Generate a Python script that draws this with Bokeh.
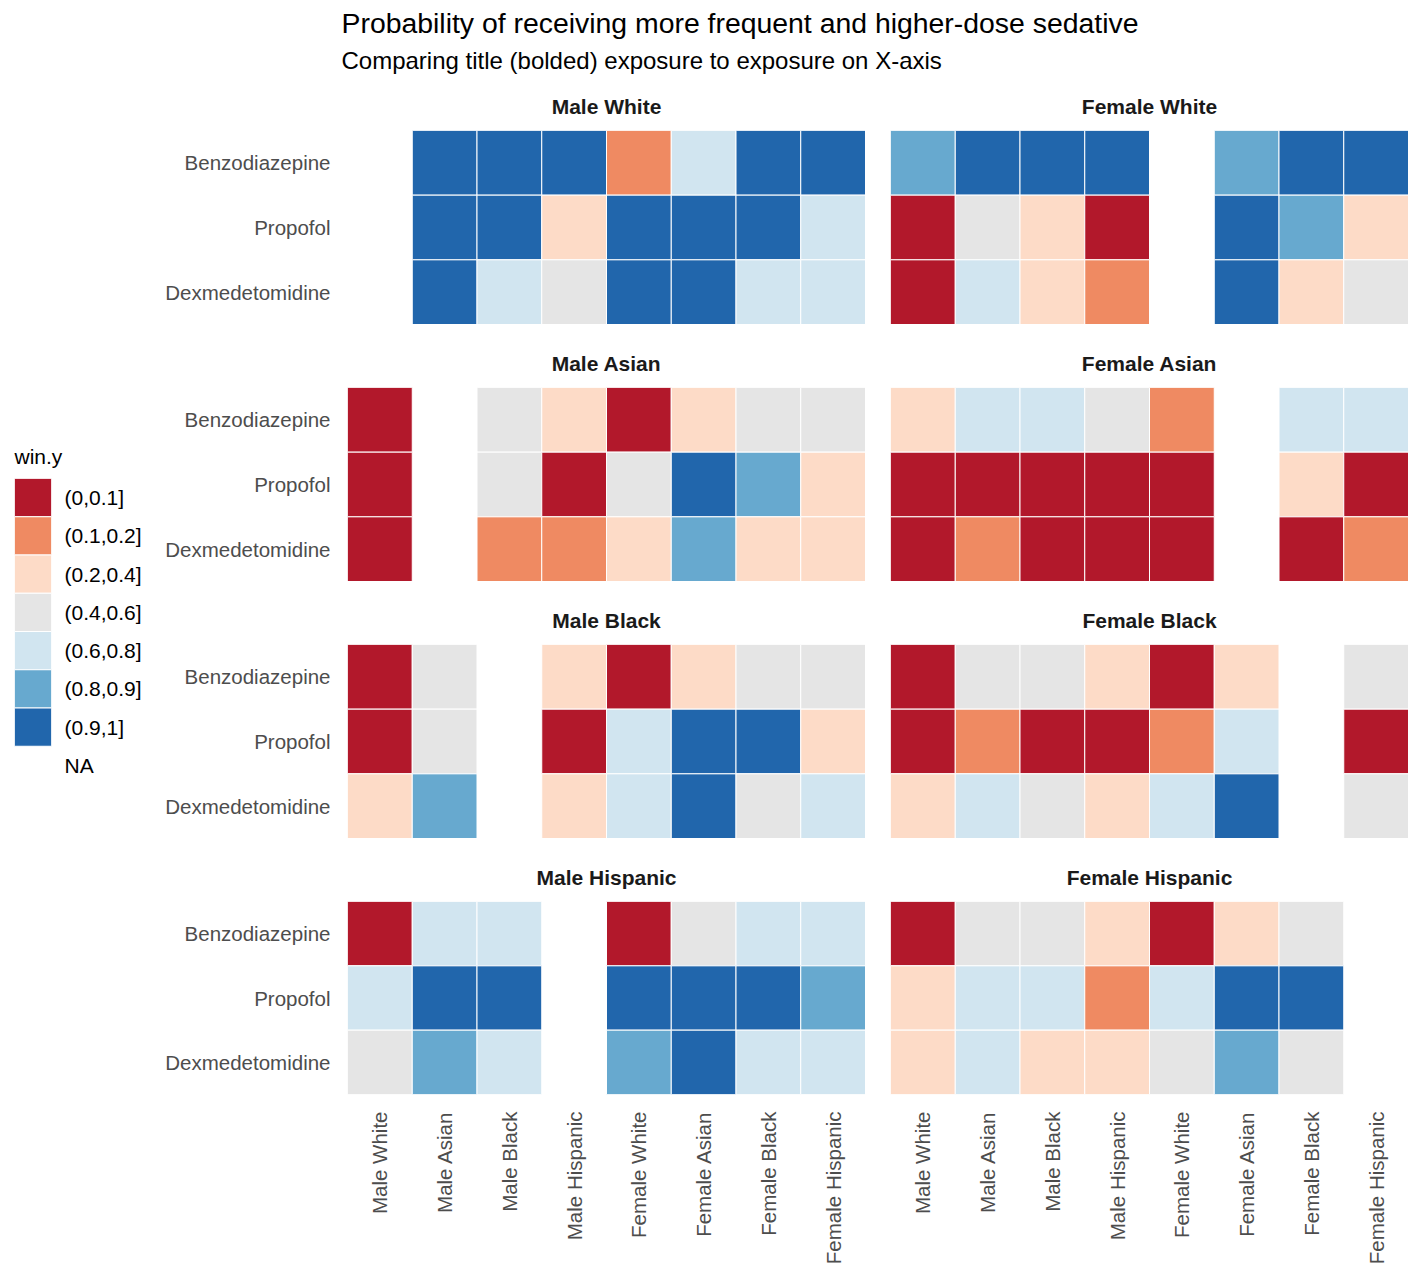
import math
from bokeh.plotting import figure
from bokeh.layouts import row, column
from bokeh.models import FactorRange, ColumnDataSource, Title, Range1d
from bokeh.transform import factor_cmap
from bokeh.embed import file_html
from bokeh.resources import INLINE

# ---------------- data ----------------
exposures = ["Male White", "Male Asian", "Male Black", "Male Hispanic",
             "Female White", "Female Asian", "Female Black", "Female Hispanic"]
sedatives = ["Benzodiazepine", "Propofol", "Dexmedetomidine"]
bins = ["(0,0.1]", "(0.1,0.2]", "(0.2,0.4]", "(0.4,0.6]", "(0.6,0.8]", "(0.8,0.9]", "(0.9,1]"]
bin_colors = ["#B2182B", "#EF8A62", "#FDDBC7", "#E5E5E5", "#D1E5F0", "#67A9CF", "#2166AC"]
na_label = "NA"
B1, B2, B3, B4, B5, B6, B7 = bins
NA = None

# rows: Benzodiazepine, Propofol, Dexmedetomidine ; columns: exposures
male_white = [
    [NA, B7, B7, B7, B2, B5, B7, B7],
    [NA, B7, B7, B3, B7, B7, B7, B5],
    [NA, B7, B5, B4, B7, B7, B5, B5],
]
female_white = [
    [B6, B7, B7, B7, NA, B6, B7, B7],
    [B1, B4, B3, B1, NA, B7, B6, B3],
    [B1, B5, B3, B2, NA, B7, B3, B4],
]
male_asian = [
    [B1, NA, B4, B3, B1, B3, B4, B4],
    [B1, NA, B4, B1, B4, B7, B6, B3],
    [B1, NA, B2, B2, B3, B6, B3, B3],
]
female_asian = [
    [B3, B5, B5, B4, B2, NA, B5, B5],
    [B1, B1, B1, B1, B1, NA, B3, B1],
    [B1, B2, B1, B1, B1, NA, B1, B2],
]
male_black = [
    [B1, B4, NA, B3, B1, B3, B4, B4],
    [B1, B4, NA, B1, B5, B7, B7, B3],
    [B3, B6, NA, B3, B5, B7, B4, B5],
]
female_black = [
    [B1, B4, B4, B3, B1, B3, NA, B4],
    [B1, B2, B1, B1, B2, B5, NA, B1],
    [B3, B5, B4, B3, B5, B7, NA, B4],
]
male_hispanic = [
    [B1, B5, B5, NA, B1, B4, B5, B5],
    [B5, B7, B7, NA, B7, B7, B7, B6],
    [B4, B6, B5, NA, B6, B7, B5, B5],
]
female_hispanic = [
    [B1, B4, B4, B3, B1, B3, B4, NA],
    [B3, B5, B5, B2, B5, B7, B7, NA],
    [B3, B5, B3, B3, B4, B6, B4, NA],
]

facet_grid = [
    [("Male White", male_white), ("Female White", female_white)],
    [("Male Asian", male_asian), ("Female Asian", female_asian)],
    [("Male Black", male_black), ("Female Black", female_black)],
    [("Male Hispanic", male_hispanic), ("Female Hispanic", female_hispanic)],
]

main_title = "Probability of receiving more frequent and higher-dose sedative"
sub_title = "Comparing title (bolded) exposure to exposure on X-axis"
legend_title = "win.y"

FONT = "Liberation Sans"
LEGEND_W = 150
FRAME_W = 518
FRAME_H = 194
LEFT_BORDER = 197
GAP = 25
HEADER_H = 80
TOP_BORDER_FIRST = 50
TOP_BORDER = 63
BOTTOM_BORDER = 172
AXIS_FONT = "20.5px"


def make_panel(title, values, is_left, is_bottom, top_border):
    xs, ys, vs = [], [], []
    for si, sed in enumerate(sedatives):
        for ei, exp in enumerate(exposures):
            v = values[si][ei]
            if v is not None:
                xs.append(exp)
                ys.append(sed)
                vs.append(v)
    src = ColumnDataSource(dict(x=xs, y=ys, v=vs))
    lb = LEFT_BORDER if is_left else GAP
    bb = BOTTOM_BORDER if is_bottom else 0
    p = figure(
        x_range=FactorRange(factors=exposures),
        y_range=FactorRange(factors=list(reversed(sedatives))),
        width=lb + FRAME_W, height=top_border + FRAME_H + bb,
        min_border_left=lb, min_border_right=0,
        min_border_top=top_border, min_border_bottom=bb,
        x_axis_location="below" if is_bottom else None,
        y_axis_location="left" if is_left else None,
        output_backend="svg", toolbar_location=None, title=title,
    )
    p.rect(x="x", y="y", width=1, height=1, source=src,
           fill_color=factor_cmap("v", bin_colors, bins),
           line_color="white", line_width=1)
    p.outline_line_color = None
    p.grid.visible = False
    p.background_fill_color = "white"
    p.title.align = "center"
    p.title.text_font = FONT
    p.title.text_font_size = "21px"
    p.title.text_font_style = "bold"
    p.title.text_color = "#1A1A1A"
    p.title.standoff = 25
    for ax in p.axis:
        ax.axis_line_color = None
        ax.major_tick_line_color = None
        ax.minor_tick_line_color = None
        ax.major_tick_out = 0
        ax.major_tick_in = 0
        ax.major_label_standoff = 17
        ax.major_label_text_font = FONT
        ax.major_label_text_font_size = AXIS_FONT
        ax.major_label_text_color = "#4D4D4D"
    if is_bottom:
        p.xaxis.major_label_orientation = math.pi / 2
    return p


panel_rows = []
for ri, pair in enumerate(facet_grid):
    tb = TOP_BORDER_FIRST if ri == 0 else TOP_BORDER
    is_bottom = ri == len(facet_grid) - 1
    left = make_panel(pair[0][0], pair[0][1], True, is_bottom, tb)
    right = make_panel(pair[1][0], pair[1][1], False, is_bottom, tb)
    panel_rows.append(row(left, right))

grid_h = TOP_BORDER_FIRST + FRAME_H + 2 * (TOP_BORDER + FRAME_H) + TOP_BORDER + FRAME_H + BOTTOM_BORDER

# ---------------- legend (a one-column key drawn through categorical scales) ----------------
KEY_LEFT = 14
KEY_W = 37
KEY_TOP = 398
KEY_H = 306
key_factors = list(reversed(bins + [na_label]))
key_src = ColumnDataSource(dict(k=[legend_title] * len(bins), b=bins))
lf = figure(width=LEGEND_W, height=grid_h,
            x_range=FactorRange(factors=[legend_title]), y_range=FactorRange(factors=key_factors),
            min_border_left=KEY_LEFT, min_border_right=LEGEND_W - KEY_LEFT - KEY_W,
            min_border_top=KEY_TOP, min_border_bottom=grid_h - KEY_TOP - KEY_H,
            x_axis_location=None, y_axis_location="right",
            output_backend="svg", toolbar_location=None, title=legend_title)
lf.rect(x="k", y="b", width=1, height=1, source=key_src,
        fill_color=factor_cmap("b", bin_colors, bins), line_color="white", line_width=1)
lf.outline_line_color = None
lf.grid.visible = False
lf.title.align = "left"
lf.title.text_font = FONT
lf.title.text_font_size = "21px"
lf.title.text_font_style = "normal"
lf.title.text_color = "black"
lf.title.standoff = 22
lax = lf.yaxis[0]
lax.axis_line_color = None
lax.major_tick_line_color = None
lax.major_tick_out = 0
lax.major_tick_in = 0
lax.major_label_standoff = 13
lax.major_label_text_font = FONT
lax.major_label_text_font_size = "21px"
lax.major_label_text_color = "black"

# ---------------- header ----------------
hdr = figure(width=LEGEND_W + LEFT_BORDER + FRAME_W + GAP + FRAME_W, height=HEADER_H,
             x_range=Range1d(0, 1), y_range=Range1d(0, 1),
             min_border_left=341, min_border_right=0, min_border_top=0, min_border_bottom=0,
             x_axis_location=None, y_axis_location=None,
             output_backend="svg", toolbar_location=None, title=None)
hdr.outline_line_color = None
hdr.grid.visible = False
hdr.add_layout(Title(text=sub_title, align="left", text_font=FONT, text_font_size="24px",
                     text_font_style="normal", text_color="black", standoff=4), "above")
hdr.add_layout(Title(text=main_title, align="left", text_font=FONT, text_font_size="28.4px",
                     text_font_style="normal", text_color="black", standoff=8), "above")

layout = column(hdr, row(lf, column(*panel_rows)))

open("out.html", "w").write(file_html(layout, INLINE))
